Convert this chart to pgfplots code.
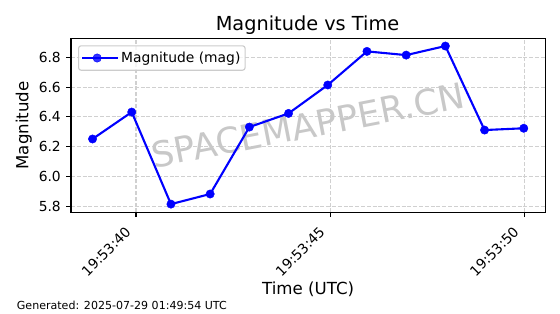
\documentclass[border=0pt]{standalone}
\usepackage{pgfplots}
\pgfplotsset{compat=1.18}
\usepackage{fontspec}
\setmainfont{DejaVu Sans}
\definecolor{gridc}{RGB}{208,208,208}
\definecolor{wm}{RGB}{200,200,200}
\definecolor{legc}{RGB}{204,204,204}
\begin{document}
\begin{tikzpicture}
\useasboundingbox (-71bp,-101.7bp) rectangle (489bp,212.3bp);
\begin{axis}[
  at={(0,0)}, anchor=south west,
  scale only axis, width=474.3bp, height=174bp,
  xmin=38.325, xmax=50.545, ymin=5.758, ymax=6.928,
  xtick={40,45,50}, xticklabels={19:53:40,19:53:45,19:53:50},
  ytick={5.8,6.0,6.2,6.4,6.6,6.8}, yticklabels={5.8,6.0,6.2,6.4,6.6,6.8},
  tick align=outside, tick pos=left, major tick length=4.9bp,
  tick style={black, line width=1.1bp},
  axis line style={line width=1.1bp},
  grid=major, grid style={gridc, dash pattern=on 4bp off 1.8bp, line width=1.1bp},
  ticklabel style={font=\fontsize{13.9}{16}\selectfont},
  xticklabel style={xshift=-4bp, yshift=-16bp, rotate=45, anchor=south east, inner sep=0pt},
  yticklabel style={anchor=east, inner sep=0pt, xshift=-5.1bp},
  legend style={at={(0.0148,0.96)}, anchor=north west, draw=legc, line width=1.1bp,
    fill=white, fill opacity=0.8, text opacity=1, rounded corners=2.5bp,
    font=\fontsize{13.9}{16}\selectfont, inner xsep=2.7bp, inner ysep=4.2bp},
  legend cell align=left,
  legend image code/.code={\path (0bp,0bp) -- (35.7bp,0bp);
    \draw[mark repeat=2,mark phase=2,#1] plot coordinates {(0bp,0bp) (14.85bp,0bp) (29.7bp,0bp)};},
]
\node[rotate=11, text=wm, font=\fontsize{35.5}{40}\selectfont] at (rel axis cs:0.5,0.5) {SPACEMAPPER.CN};
\addplot[blue, line width=2.1bp, mark=*, mark size=4.2bp,
  mark options={solid, fill=blue, draw=blue, line width=0.4bp}] table {
x y
38.88 6.251
39.89 6.432
40.90 5.813
41.91 5.881
42.92 6.331
43.93 6.423
44.94 6.614
45.95 6.840
46.96 6.815
47.97 6.876
48.98 6.311
49.99 6.323
};
\addlegendentry{Magnitude (mag)}
\end{axis}
\node[anchor=base, font=\fontsize{19.4}{23}\selectfont] at (236.5bp,181.6bp) {Magnitude vs Time};
\node[anchor=base, font=\fontsize{16.7}{20}\selectfont] at (237.15bp,-81.7bp) {Time (UTC)};
\node[rotate=90, anchor=base, font=\fontsize{16.7}{20}\selectfont] at (-42.5bp,87bp) {Magnitude};
\node[anchor=base west, inner sep=0pt, font=\fontsize{11.1}{13}\selectfont] at (-54.3bp,-97.2bp) {Generated: 2025-07-29 01:49:54 UTC};
\end{tikzpicture}
\end{document}
